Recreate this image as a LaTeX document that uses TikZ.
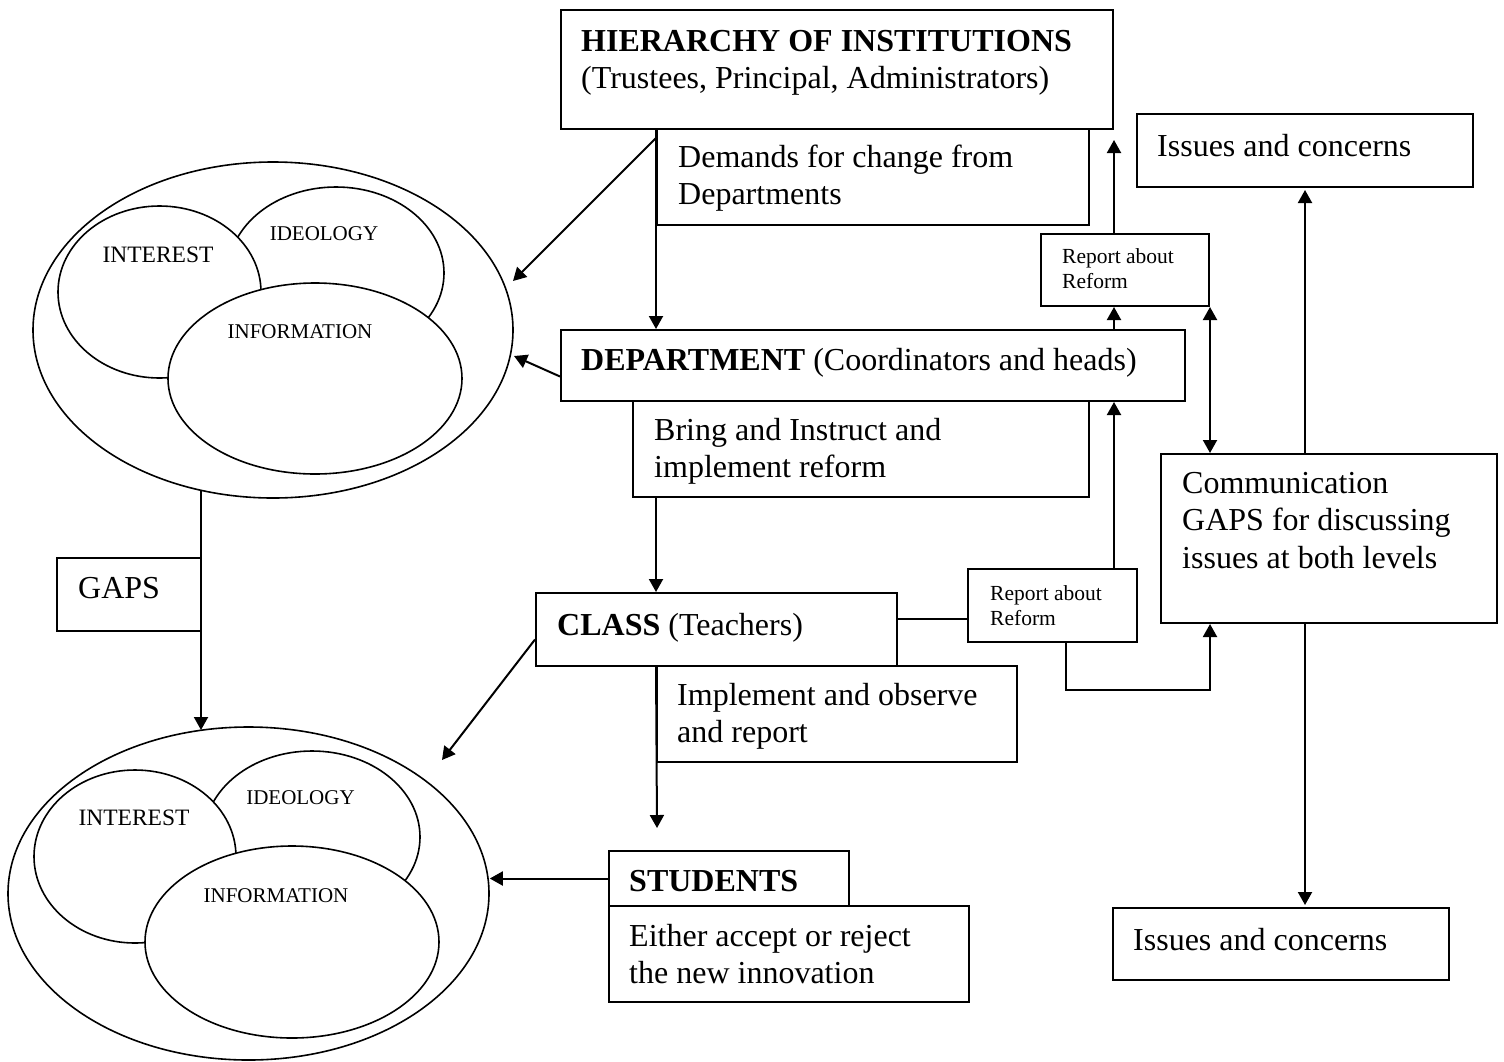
\documentclass[tikz,border=0pt]{standalone}
\usepackage{fontspec}
\setmainfont{Liberation Serif}
\usetikzlibrary{arrows.meta,shapes.geometric,fit,calc}

% type sizes used in the chart
\newcommand{\mainsz}{\fontsize{32}{37.5}\selectfont}
\newcommand{\repsz}{\fontsize{21.5}{25}\selectfont}
\newcommand{\ellsz}{\fontsize{21}{25}\selectfont}
\newcommand{\intsz}{\fontsize{23.5}{28}\selectfont}

\begin{document}
\begin{tikzpicture}[x=1pt,y=-1pt,
  boxst/.style={draw, line width=2pt, rectangle, inner sep=0pt, fit={#1}},
  ell/.style={draw, ellipse, line width=1.6pt, inner sep=0pt},
  txt/.style={anchor=base west, inner sep=0pt, align=flush left, font=\mainsz},
  reptxt/.style={anchor=base west, inner sep=0pt, align=flush left, font=\repsz},
  lbl/.style={anchor=base, inner sep=0pt, font=\ellsz},
  conn/.style={line width=2pt},
  arr/.style={line width=2pt, -{Triangle[length=13pt,width=14pt]}},
  dblarr/.style={line width=2pt, {Triangle[length=13pt,width=14pt]}-{Triangle[length=13pt,width=14pt]}}
]
\useasboundingbox (0,0) rectangle (1504,1061);

% ---- the three "I" ellipse groups ----
\node[ell, minimum width=480pt, minimum height=336pt] (eo1) at (273,330) {};
\node[ell, minimum width=216pt, minimum height=172pt] (eid1) at (336,273) {};
\node[ell, fill=white, minimum width=203pt, minimum height=172pt] (eint1) at (159.5,292) {};
\node[ell, fill=white, minimum width=294pt, minimum height=191pt] (einf1) at (315,378.5) {};
\node[lbl, font=\intsz] (lint1) at (158,262) {INTEREST};
\node[lbl] (lid1) at (324,240) {IDEOLOGY};
\node[lbl] (linf1) at (300,338) {INFORMATION};

\node[ell, minimum width=481pt, minimum height=333pt] (eo2) at (248.5,893.5) {};
\node[ell, minimum width=216pt, minimum height=172pt] (eid2) at (312,837) {};
\node[ell, fill=white, minimum width=202pt, minimum height=173pt] (eint2) at (135,856.5) {};
\node[ell, fill=white, minimum width=294pt, minimum height=192pt] (einf2) at (292,942) {};
\node[lbl, font=\intsz] (lint2) at (134,825) {INTEREST};
\node[lbl] (lid2) at (300.5,804) {IDEOLOGY};
\node[lbl] (linf2) at (276,902) {INFORMATION};

% ---- boxes ----
\node[boxst={(561,10) (1113,129)}] (hier) {};
\node[boxst={(657,129) (1089,225)}] (dem) {};
\node[boxst={(561,330) (1185,401)}] (dept) {};
\node[boxst={(633,401) (1089,497)}] (bring) {};
\node[boxst={(536,593) (897,666)}] (cls) {};
\node[boxst={(657,666) (1017,762)}] (impl) {};
\node[boxst={(609,851) (849,906)}] (stud) {};
\node[boxst={(609,906) (969,1002)}] (either) {};
\node[boxst={(1041,234) (1209,306)}] (rep1) {};
\node[boxst={(968,569) (1137,642)}] (rep2) {};
\node[boxst={(1161,454) (1497,623)}] (comm) {};
\node[boxst={(1137,114) (1473,187)}] (iss1) {};
\node[boxst={(1113,908) (1449,980)}] (iss2) {};
\node[boxst={(57,558) (201,631)}] (gaps) {};

% ---- texts ----
\node[txt, text width=520pt] (thier) at (581,51) {\textbf{HIERARCHY OF INSTITUTIONS}\\(Trustees, Principal, Administrators)};
\node[txt, text width=400pt] (tdem) at (678,167) {Demands for change from\\Departments};
\node[txt] (tdept) at (581,370) {\textbf{DEPARTMENT} (Coordinators and heads)};
\node[txt, text width=420pt] (tbring) at (654,440) {Bring and Instruct and\\implement reform};
\node[txt] (tcls) at (557,635) {\textbf{CLASS} (Teachers)};
\node[txt, text width=330pt] (timpl) at (677,705) {Implement and observe\\and report};
\node[txt] (tstud) at (629,891) {\textbf{STUDENTS}};
\node[txt, text width=330pt] (teither) at (629,946) {Either accept or reject\\the new innovation};
\node[txt] (tgaps) at (78,598) {GAPS};
\node[txt] (tiss1) at (1157,156) {Issues and concerns};
\node[txt] (tiss2) at (1133,950) {Issues and concerns};
\node[txt, text width=300pt] (tcomm) at (1182,493) {Communication\\GAPS for discussing\\issues at both levels};
\node[reptxt, text width=140pt] (trep1) at (1062,263) {Report about\\Reform};
\node[reptxt, text width=140pt] (trep2) at (990,600) {Report about\\Reform};

% ---- free ends of connectors ----
\coordinate (tipE1a) at (513,281);
\coordinate (tipE1b) at (514,356);
\coordinate (tipE2a) at (442,760);
\coordinate (gTop) at (201,490);
\coordinate (gBot) at (201,730);
\coordinate (tipStud) at (657,828);

% ---- connectors ----
\draw[arr] (dem.north west) -- (dem.north west |- dept.north);
\draw[arr] ([yshift=-10pt]dem.north west) -- (tipE1a);
\draw[arr] ([yshift=-11pt]dept.west) -- (tipE1b);
\draw[arr] (dem.west |- bring.south) -- (dem.west |- cls.north);
\draw[arr] (impl.north west) -- (tipStud);
\draw[arr] (stud.west) -- (eo2.east |- stud.west);
\draw[arr] ([yshift=-10pt]cls.west) -- (tipE2a);
\draw[arr] (gTop) -- (gBot);

\draw[arr] (rep1.north -| hier.east) -- ([yshift=-10pt]hier.south east);
\draw[arr] (dept.north -| hier.east) -- (rep1.south -| hier.east);
\draw[arr] (rep2.north -| hier.east) -- (dept.south -| hier.east);
\draw[dblarr] (rep1.south east) -- (rep1.south east |- comm.north);
\draw[arr] (comm.north -| iss1.south) -- ([yshift=-2pt]iss1.south);
\draw[arr] (comm.south -| iss1.south) -- ([yshift=2pt]iss1.south |- iss2.north);
\draw[conn] ([yshift=11pt]cls.east) -- ([yshift=11pt]cls.east -| rep2.west);
\draw[arr] ([xshift=13.5pt]rep2.south) -- ++(0,47) -| (rep1.south east |- comm.south);
\end{tikzpicture}
\end{document}
